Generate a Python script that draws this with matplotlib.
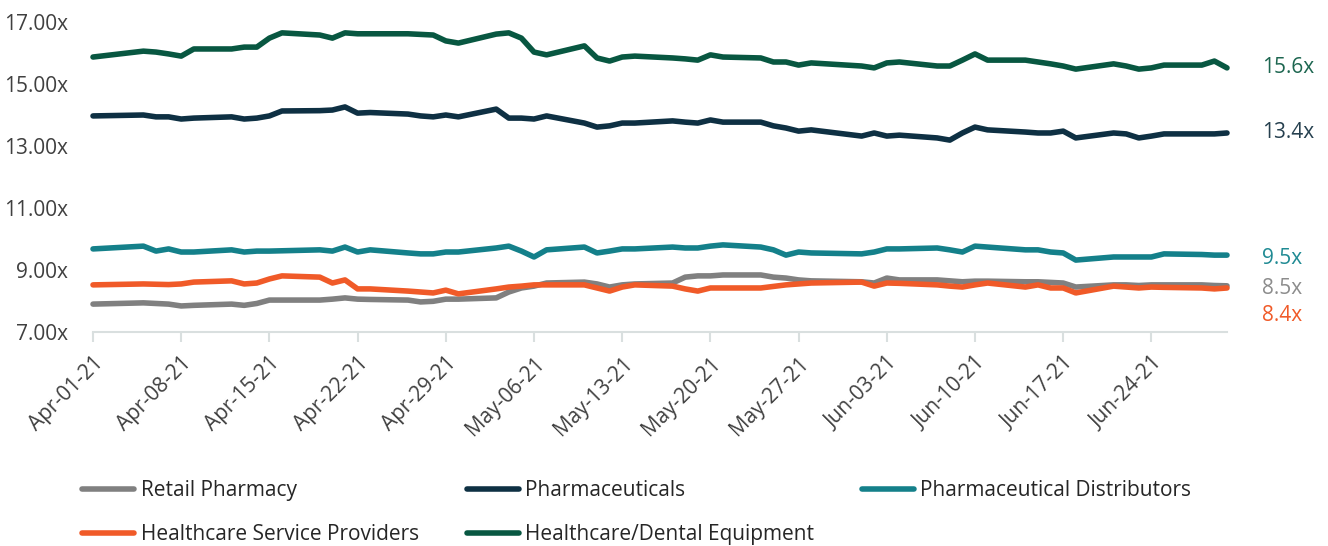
import numpy as np
import pandas as pd
import matplotlib
matplotlib.use("Agg")
import matplotlib.pyplot as plt
import matplotlib.dates as mdates

plt.rcParams['font.family'] = ['Open Sans', 'DejaVu Sans']

# trading days Apr-01-21 .. Jun-30-21 (Good Friday and Memorial Day closed)
dates = pd.bdate_range('2021-04-01', '2021-06-30', freq='C',
                       holidays=['2021-04-02', '2021-05-31'])

retail_pharmacy = [
    7.90, 7.94, 7.92, 7.90, 7.84, 7.86, 7.90, 7.86, 7.92, 8.03, 8.03, 8.03, 8.06, 8.10, 8.06, 8.05, 8.03, 7.97, 7.99, 8.06, 8.06,
    8.10, 8.29, 8.42, 8.48, 8.58, 8.61, 8.55, 8.45, 8.52, 8.55, 8.58, 8.77, 8.81, 8.81, 8.84, 8.84, 8.77, 8.74, 8.68, 8.65,
    8.62, 8.58, 8.74, 8.68, 8.68, 8.65, 8.62, 8.64, 8.64, 8.62, 8.62, 8.60, 8.58, 8.45, 8.52, 8.52, 8.50, 8.52, 8.52, 8.52, 8.50, 8.49]
pharmaceuticals = [
    13.97, 14.00, 13.94, 13.94, 13.87, 13.90, 13.94, 13.87, 13.90, 13.97, 14.13, 14.14, 14.16, 14.26, 14.06, 14.08, 14.03, 13.97, 13.94, 14.00, 13.94,
    14.19, 13.90, 13.90, 13.87, 13.97, 13.74, 13.61, 13.65, 13.74, 13.74, 13.81, 13.77, 13.74, 13.84, 13.77, 13.77, 13.65, 13.58, 13.48, 13.52,
    13.32, 13.42, 13.32, 13.35, 13.26, 13.19, 13.42, 13.61, 13.52, 13.45, 13.42, 13.42, 13.48, 13.26, 13.42, 13.39, 13.26, 13.32, 13.39, 13.39, 13.39, 13.42]
pharma_distributors = [
    9.68, 9.77, 9.61, 9.68, 9.58, 9.58, 9.65, 9.58, 9.61, 9.61, 9.62, 9.65, 9.61, 9.74, 9.58, 9.65, 9.55, 9.52, 9.52, 9.58, 9.58,
    9.71, 9.77, 9.61, 9.42, 9.65, 9.74, 9.55, 9.61, 9.68, 9.68, 9.74, 9.71, 9.71, 9.77, 9.81, 9.74, 9.65, 9.48, 9.58, 9.55,
    9.52, 9.58, 9.68, 9.68, 9.71, 9.65, 9.58, 9.77, 9.74, 9.65, 9.65, 9.58, 9.55, 9.32, 9.42, 9.42, 9.42, 9.42, 9.52, 9.50, 9.48, 9.48]
service_providers = [
    8.52, 8.55, 8.54, 8.53, 8.55, 8.61, 8.65, 8.55, 8.58, 8.71, 8.81, 8.77, 8.58, 8.68, 8.39, 8.39, 8.32, 8.29, 8.26, 8.35, 8.23,
    8.39, 8.45, 8.48, 8.52, 8.52, 8.52, 8.42, 8.32, 8.45, 8.52, 8.48, 8.39, 8.32, 8.42, 8.42, 8.42, 8.47, 8.52, 8.55, 8.58,
    8.61, 8.48, 8.58, 8.57, 8.52, 8.48, 8.45, 8.52, 8.58, 8.45, 8.52, 8.42, 8.42, 8.26, 8.48, 8.45, 8.42, 8.45, 8.44, 8.42, 8.39, 8.42]
dental_equipment = [
    15.87, 16.06, 16.03, 15.97, 15.90, 16.13, 16.13, 16.19, 16.19, 16.48, 16.65, 16.58, 16.48, 16.65, 16.62, 16.62, 16.62, 16.60, 16.58, 16.39, 16.32,
    16.61, 16.65, 16.48, 16.03, 15.94, 16.23, 15.84, 15.74, 15.87, 15.90, 15.84, 15.81, 15.77, 15.94, 15.87, 15.84, 15.71, 15.71, 15.61, 15.68,
    15.58, 15.52, 15.68, 15.71, 15.58, 15.58, 15.77, 15.97, 15.77, 15.77, 15.71, 15.65, 15.58, 15.48, 15.65, 15.58, 15.48, 15.52, 15.61, 15.61, 15.74, 15.52]

names = ['Retail Pharmacy', 'Pharmaceuticals', 'Pharmaceutical Distributors',
         'Healthcare Service Providers', 'Healthcare/Dental Equipment']
colors = ['#808080', '#0e3043', '#14808a', '#f05a28', '#085741']
end_labels = ['8.5x', '13.4x', '9.5x', '8.4x', '15.6x']
label_colors = ['#8c8c8c', '#26404f', '#1f8a93', '#f05a28', '#1d6650']
label_dy = [-3, 0, -3, -28, 0]

fig = plt.figure(figsize=(13.28, 5.46), dpi=100)
ax = fig.add_axes([93/1328, 1 - 332/546, (1227 - 93)/1328, 332/546])

series = [retail_pharmacy, pharmaceuticals, pharma_distributors, service_providers, dental_equipment]
lines = []
for vals, name, c in zip(series, names, colors):
    ln, = ax.plot(dates, vals, color=c, lw=4, label=name, clip_on=False,
                  solid_capstyle='round', solid_joinstyle='round')
    lines.append(ln)

for vals, txt, c, dy in zip(series, end_labels, label_colors, label_dy):
    ax.annotate(txt, xy=(dates[-1], vals[-1]), xytext=(35, dy), textcoords='offset pixels',
                va='center', ha='left', color=c, fontsize=15, annotation_clip=False)

ax.set_xlim(dates[0], dates[-1])
ax.set_ylim(7, 17 + 22/31)
ax.set_yticks([7, 9, 11, 13, 15, 17])
ax.yaxis.set_major_formatter(matplotlib.ticker.FuncFormatter(lambda v, p: f'{v:.2f}x'))
ax.tick_params(axis='y', length=0, pad=18, labelsize=15, labelcolor='#404040')

ax.set_xticks(pd.date_range('2021-04-01', '2021-06-24', freq='7D'))
ax.xaxis.set_major_formatter(mdates.DateFormatter('%b-%d-%y'))
ax.tick_params(axis='x', length=7, width=1.5, color='#d9dfdf', pad=8,
               labelsize=15, labelcolor='#404040')
for lbl in ax.get_xticklabels():
    lbl.set_rotation(45)
    lbl.set_ha('right')
    lbl.set_rotation_mode('anchor')

for s in ['top', 'right', 'left']:
    ax.spines[s].set_visible(False)
ax.spines['bottom'].set_color('#d9dfdf')
ax.spines['bottom'].set_linewidth(1.5)

# legend fills column-wise, so reorder to get row-wise reading
order = [0, 3, 1, 4, 2]
fig.legend([lines[i] for i in order], [names[i] for i in order], ncol=3,
           loc='upper left', bbox_to_anchor=(0.062, 0.12), frameon=False,
           fontsize=15, handlelength=2.5, handletextpad=0.3, columnspacing=2.3,
           labelspacing=1.1, borderpad=0, borderaxespad=0, labelcolor='#262626')

fig.savefig('out.png', dpi=100)
